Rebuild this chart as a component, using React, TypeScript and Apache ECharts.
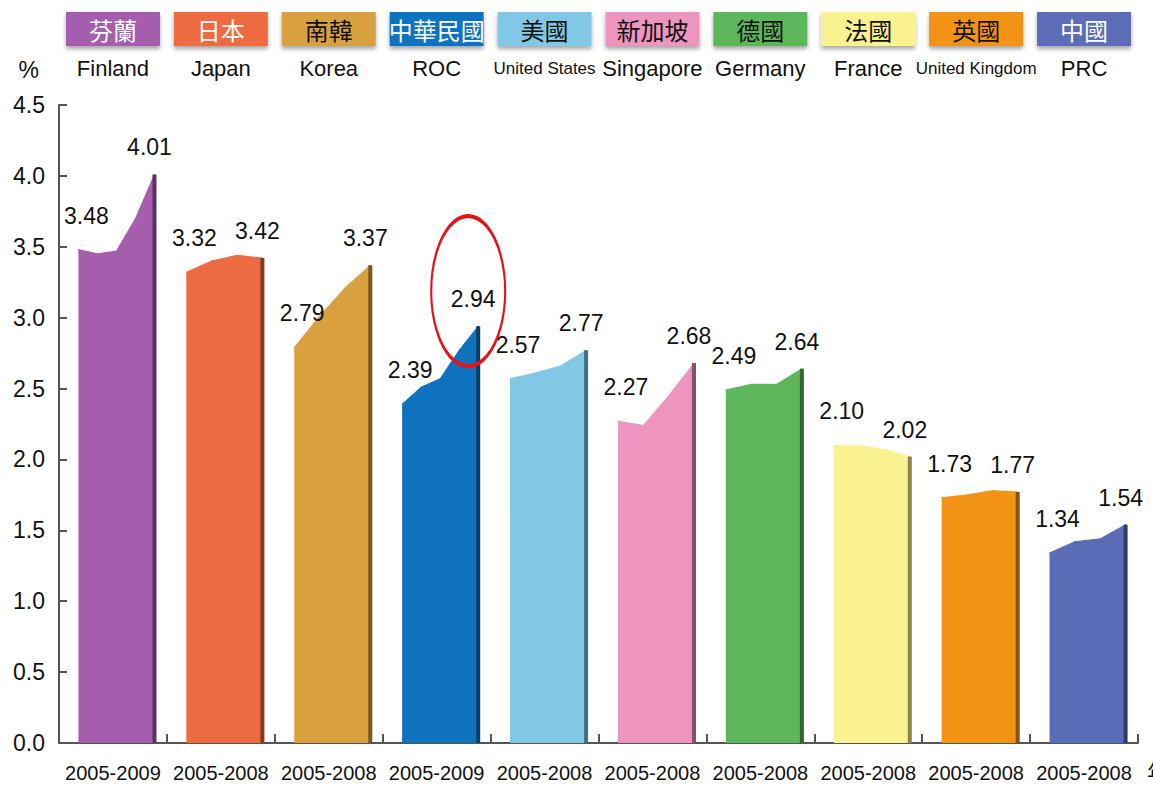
import React, { useEffect, useRef } from "react";
import * as echarts from "echarts";

// ---- data ----
const zhNames = ["芬蘭", "日本", "南韓", "中華民國", "美國", "新加坡", "德國", "法國", "英國", "中國"];
const enNames = ["Finland", "Japan", "Korea", "ROC", "United States", "Singapore", "Germany", "France", "United Kingdom", "PRC"];
const periods = ["2005-2009", "2005-2008", "2005-2008", "2005-2009", "2005-2008", "2005-2008", "2005-2008", "2005-2008", "2005-2008", "2005-2008"];
const yTicks = [0, 0.5, 1, 1.5, 2, 2.5, 3, 3.5, 4, 4.5];

const finland = [3.48, 3.45, 3.47, 3.7, 4.01];
const japan = [3.32, 3.4, 3.44, 3.42];
const korea = [2.79, 3.01, 3.21, 3.37];
const roc = [2.39, 2.51, 2.57, 2.77, 2.94];
const unitedStates = [2.57, 2.61, 2.66, 2.77];
const singapore = [2.27, 2.24, 2.45, 2.68];
const germany = [2.49, 2.53, 2.53, 2.64];
const france = [2.1, 2.1, 2.07, 2.02];
const unitedKingdom = [1.73, 1.75, 1.78, 1.77];
const prc = [1.34, 1.42, 1.44, 1.54];
const seriesValues = [finland, japan, korea, roc, unitedStates, singapore, germany, france, unitedKingdom, prc];
const highlightIndex = 3; // ROC latest value circled

// ---- styles ----
const colors = ["#A65DAD", "#EE6A40", "#D9A040", "#0F72BF", "#80C8E6", "#EE95BF", "#5DB75A", "#FAF191", "#F39313", "#5B6CB7"];
const boxTextColors = ["#fff", "#fff", "#111", "#fff", "#111", "#111", "#111", "#111", "#111", "#fff"];
const BAR_START = 0.18;
const BAR_END = 0.885;
const SANS = "'Liberation Sans', Arial, sans-serif";
const CJK = "'Noto Sans CJK TC', 'Noto Sans CJK SC', sans-serif";

function darken(hex: string, f: number) {
  const n = parseInt(hex.slice(1), 16);
  const r = Math.round(((n >> 16) & 255) * f);
  const g = Math.round(((n >> 8) & 255) * f);
  const b = Math.round((n & 255) * f);
  return `rgb(${r},${g},${b})`;
}

export default function App() {
  const ref = useRef<HTMLDivElement>(null);
  useEffect(() => {
    document.body.style.margin = "0";
    const chart = echarts.init(ref.current!, null, { renderer: "svg" });

    const series: any[] = [];
    seriesValues.forEach((vals, i) => {
      const n = vals.length;
      const step = (BAR_END - BAR_START) / (n - 1);
      const pts = vals.map((v, k) => [i + BAR_START + k * step, v]);
      series.push({
        type: "line",
        xAxisIndex: 0,
        yAxisIndex: 0,
        symbol: "circle",
        symbolSize: 1,
        itemStyle: { color: colors[i] },
        lineStyle: { color: colors[i], width: 1 },
        areaStyle: { color: colors[i], opacity: 1 },
        data: pts.map((p, k) => ({
          value: p,
          label:
            k === 0
              ? { show: true, distance: 22, offset: [8, 0] }
              : k === n - 1
              ? { show: true, distance: 15, offset: [-5, 0] }
              : { show: false },
        })),
        label: {
          position: "top",
          fontSize: 23,
          fontFamily: SANS,
          color: "#111",
          formatter: (p: any) => p.value[1].toFixed(2),
        },
        markPoint:
          i === highlightIndex
            ? {
                symbol: "circle",
                symbolSize: [74, 150],
                symbolOffset: [-10, -35],
                itemStyle: { color: "rgba(0,0,0,0)", borderColor: "#E3121B", borderWidth: 3 },
                label: { show: false },
                silent: true,
                data: [{ coord: pts[n - 1] }],
              }
            : undefined,
        z: 2,
      });
      // darker right edge
      series.push({
        type: "line",
        xAxisIndex: 0,
        yAxisIndex: 0,
        symbol: "none",
        silent: true,
        lineStyle: { color: darken(colors[i], 0.55), width: 4 },
        data: [
          [pts[n - 1][0], 0],
          [pts[n - 1][0], vals[n - 1]],
        ],
        z: 3,
      });
    });

    const rich: any = {
      e: { fontSize: 22, fontFamily: SANS, color: "#111", lineHeight: 44, align: "center" },
      en: { fontSize: 17, fontFamily: SANS, color: "#111", lineHeight: 44, align: "center" },
    };
    colors.forEach((c, i) => {
      rich["b" + i] = {
        backgroundColor: c,
        color: boxTextColors[i],
        fontSize: 24,
        fontFamily: CJK,
        width: 94,
        height: 34,
        lineHeight: 34,
        align: "center",
        shadowColor: "rgba(0,0,0,0.35)",
        shadowBlur: 4,
        shadowOffsetY: 3,
      };
    });

    chart.setOption({
      animation: false,
      backgroundColor: "#fff",
      grid: { left: 59, right: 15, top: 105, bottom: 48, containLabel: false, outerBoundsMode: "none" },
      xAxis: [
        { type: "value", min: 0, max: 10, show: false },
        {
          type: "category",
          data: periods,
          position: "bottom",
          boundaryGap: true,
          axisLine: { show: true, lineStyle: { color: "#555", width: 2 } },
          axisTick: { show: true, inside: true, length: 9, lineStyle: { color: "#555", width: 2 } },
          axisLabel: { interval: 0, fontSize: 20, fontFamily: SANS, color: "#111", margin: 20 },
          name: "年",
          nameLocation: "end",
          nameGap: 9,
          nameTextStyle: { fontSize: 22, fontFamily: CJK, color: "#111", verticalAlign: "top", padding: [16, 0, 0, 0] },
        },
        {
          type: "category",
          data: enNames,
          position: "top",
          boundaryGap: true,
          axisLine: { show: false },
          axisTick: { show: false },
          axisLabel: {
            interval: 0,
            margin: 15,
            formatter: (_v: string, idx: number) => {
              const en = enNames[idx];
              const st = en.length > 10 ? "en" : "e";
              return `{b${idx}|${zhNames[idx]}}\n{${st}|${en}}`;
            },
            rich,
          },
        },
      ],
      yAxis: {
        type: "value",
        min: yTicks[0],
        max: yTicks[yTicks.length - 1],
        interval: 0.5,
        name: "%",
        nameLocation: "end",
        nameGap: 24,
        nameTextStyle: { fontSize: 23, fontFamily: SANS, color: "#111", align: "right", padding: [0, 20, 0, 0] },
        splitLine: { show: false },
        axisLine: { show: true, lineStyle: { color: "#555", width: 2 } },
        axisTick: { show: true, inside: true, length: 8, lineStyle: { color: "#555", width: 2 } },
        axisLabel: { fontSize: 23, fontFamily: SANS, color: "#111", margin: 14, formatter: (v: number) => v.toFixed(1) },
      },
      series,
    });
    return () => chart.dispose();
  }, []);
  return <div ref={ref} style={{ position: "fixed", left: 0, top: 0, width: 1153, height: 791 }} />;
}
